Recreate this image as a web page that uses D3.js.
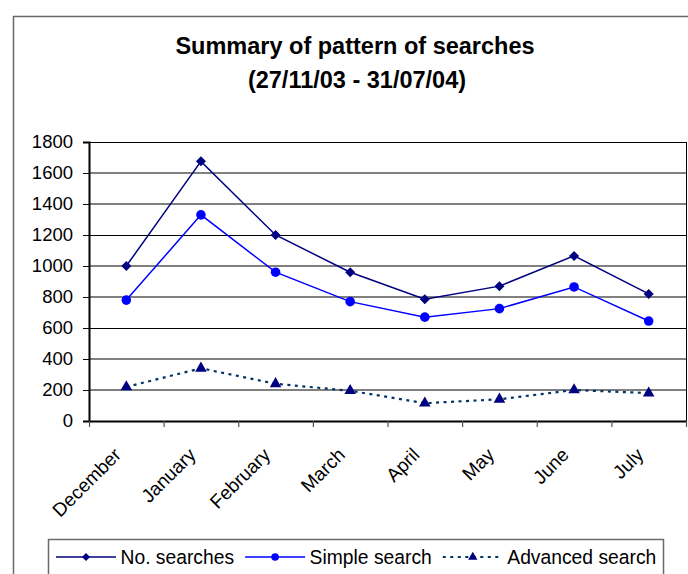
<!DOCTYPE html>
<html>
<head>
<meta charset="utf-8">
<script src="https://cdn.jsdelivr.net/npm/d3@7"></script>
<style>
  html, body { margin: 0; padding: 0; background: #fff; }
  svg { display: block; }
  text { font-family: "Liberation Sans", Arial, sans-serif; fill: #000; }
</style>
</head>
<body>
<svg id="chart" width="688" height="574"></svg>
<script>
// ---- Data ----
const months = ["December", "January", "February", "March", "April", "May", "June", "July"];
const noSearches = [1000, 1675, 1200, 960, 785, 870, 1065, 820];
const simpleSearch = [780, 1330, 960, 770, 670, 725, 865, 645];
const advancedSearch = [220, 340, 240, 195, 115, 140, 200, 180];
const yTicks = [0, 200, 400, 600, 800, 1000, 1200, 1400, 1600, 1800];
const seriesNames = ["No. searches", "Simple search", "Advanced search"];
const titleLines = ["Summary of pattern of searches", "(27/11/03 - 31/07/04)"];

// ---- Layout ----
const svg = d3.select("#chart");
const plot = { left: 89, right: 686, top: 142, bottom: 421 };

// outer chart frame
svg.append("rect")
  .attr("x", 13.5).attr("y", 16.5).attr("width", 700).attr("height", 600)
  .attr("fill", "none").attr("stroke", "#6a6a6a").attr("stroke-width", 1.5);

// title
svg.append("text")
  .attr("x", 355).attr("y", 54)
  .attr("text-anchor", "middle").attr("font-size", 23.5).attr("font-weight", "bold")
  .text(titleLines[0]);
svg.append("text")
  .attr("x", 357).attr("y", 88)
  .attr("text-anchor", "middle").attr("font-size", 23.5).attr("font-weight", "bold")
  .text(titleLines[1]);

const x = d3.scaleBand().domain(months).range([plot.left, plot.right]).padding(0);
const y = d3.scaleLinear().domain([0, 1800]).range([plot.bottom, plot.top]);
const cx = m => x(m) + x.bandwidth() / 2;

// gridlines
const grid = svg.append("g");
yTicks.filter(v => v > 0 && v < 1800).forEach(v => {
  const crisp = v % 600 === 0;
  grid.append("line")
    .attr("x1", plot.left).attr("x2", plot.right)
    .attr("y1", crisp ? y(v) + 0.5 : y(v)).attr("y2", crisp ? y(v) + 0.5 : y(v))
    .attr("stroke", crisp ? "#000" : "#808080")
    .attr("stroke-width", crisp ? 1 : 2);
});

// plot border top & right
svg.append("line").attr("x1", plot.left).attr("x2", plot.right + 0.5)
  .attr("y1", y(1800) + 0.5).attr("y2", y(1800) + 0.5).attr("stroke", "#000");
svg.append("line").attr("x1", plot.right + 0.5).attr("x2", plot.right + 0.5)
  .attr("y1", y(1800)).attr("y2", y(0)).attr("stroke", "#000");

// y axis
const yAxis = svg.append("g")
  .attr("transform", `translate(${plot.left},0)`)
  .call(d3.axisLeft(y).tickValues(yTicks).tickSize(6).tickPadding(10).tickFormat(d3.format("d")));
yAxis.select(".domain").attr("stroke", "#000").attr("stroke-width", 2);
yAxis.selectAll(".tick line").attr("stroke", "#000");
yAxis.selectAll(".tick text").attr("font-size", 18.5)
  .attr("font-family", "Liberation Sans, Arial, sans-serif").attr("fill", "#000");

// x axis
const xAxis = svg.append("g")
  .attr("transform", `translate(0,${plot.bottom})`)
  .call(d3.axisBottom(x).tickSize(0).tickFormat(""));
xAxis.select(".domain").attr("stroke", "#000").attr("stroke-width", 2);
// category boundary ticks
const bounds = months.map(m => x(m)).concat([plot.right]);
svg.append("g").selectAll("line").data(bounds).join("line")
  .attr("x1", d => d + 0.5).attr("x2", d => d + 0.5)
  .attr("y1", plot.bottom).attr("y2", plot.bottom + 6)
  .attr("stroke", "#555").attr("stroke-width", 1.2);
// rotated labels
svg.append("g").selectAll("text").data(months).join("text")
  .attr("transform", d => `translate(${cx(d) - 4},${plot.bottom + 35}) rotate(-45)`)
  .attr("text-anchor", "end").attr("font-size", 19)
  .text(d => d);

// ---- Series ----
const series = [
  { name: seriesNames[0], values: noSearches, color: "#000080", width: 1.5, dash: null, marker: "diamond", mcolor: "#000080" },
  { name: seriesNames[1], values: simpleSearch, color: "#0000ff", width: 1.5, dash: null, marker: "circle", mcolor: "#0000ff" },
  { name: seriesNames[2], values: advancedSearch, color: "#003366", width: 2.2, dash: "3,4.5", marker: "triangle", mcolor: "#000080" }
];

const symbolPath = {
  diamond: d3.symbol().type(d3.symbolSquare).size(50)(),
  circle: d3.symbol().type(d3.symbolCircle).size(72)(),
  triangle: d3.symbol().type(d3.symbolTriangle).size(58)()
};
const symbolRot = { diamond: 45, circle: 0, triangle: 0 };

const line = d3.line().x(d => cx(d.m)).y(d => y(d.v));

series.forEach(s => {
  const pts = months.map((m, i) => ({ m, v: s.values[i] }));
  svg.append("path").datum(pts)
    .attr("d", line).attr("fill", "none")
    .attr("stroke", s.color).attr("stroke-width", s.width)
    .attr("stroke-dasharray", s.dash);
  svg.append("g").selectAll("path").data(pts).join("path")
    .attr("d", symbolPath[s.marker])
    .attr("transform", d => `translate(${cx(d.m)},${y(d.v)}) rotate(${symbolRot[s.marker]})`)
    .attr("fill", s.mcolor);
});

// ---- Legend ----
const legend = svg.append("g");
legend.append("rect")
  .attr("x", 48.5).attr("y", 539.5).attr("width", 615).attr("height", 80)
  .attr("fill", "#fff").attr("stroke", "#6a6a6a").attr("stroke-width", 1.5);
let lx = 56;
const ly = 557;
series.forEach(s => {
  legend.append("line")
    .attr("x1", lx).attr("x2", lx + 60).attr("y1", ly).attr("y2", ly)
    .attr("stroke", s.color).attr("stroke-width", s.width)
    .attr("stroke-dasharray", s.dash);
  legend.append("path")
    .attr("d", symbolPath[s.marker])
    .attr("transform", `translate(${lx + 30},${ly}) rotate(${symbolRot[s.marker]}) scale(0.8)`)
    .attr("fill", s.mcolor);
  const t = legend.append("text")
    .attr("x", lx + 64.5).attr("y", ly + 6.5)
    .attr("font-size", 19.3).text(s.name);
  lx = lx + 64.5 + t.node().getComputedTextLength() + 11;
});
</script>
</body>
</html>
